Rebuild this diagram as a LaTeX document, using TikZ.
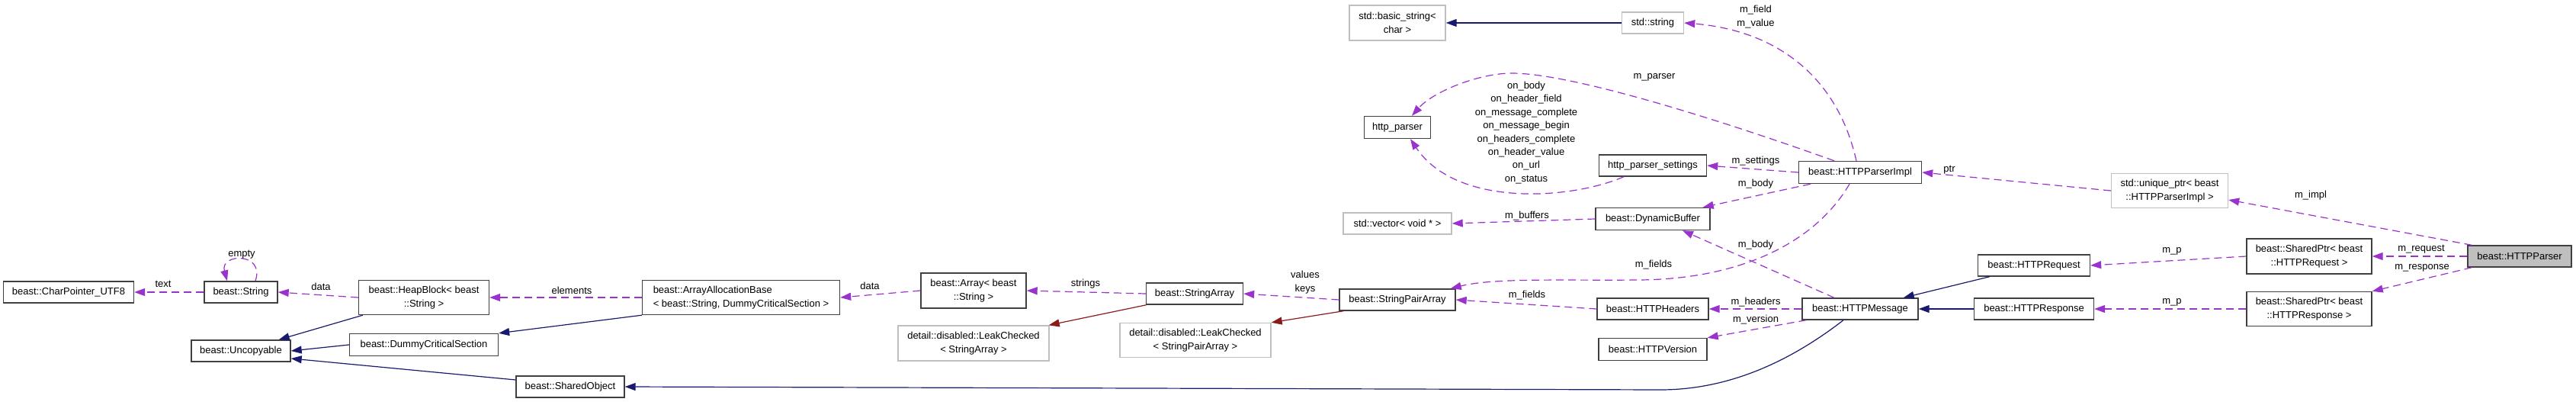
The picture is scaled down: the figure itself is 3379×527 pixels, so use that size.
\documentclass[tikz,border=0pt]{standalone}
\usepackage{fontspec}
\setmainfont{Liberation Sans}
\usetikzlibrary{arrows.meta}
\definecolor{boxgray}{HTML}{404040}
\definecolor{extgray}{HTML}{BFBFBF}
\definecolor{usecol}{HTML}{9A32CD}
\definecolor{inhcol}{HTML}{191970}
\definecolor{tplcol}{HTML}{8B1A1A}
\newcommand\dxfont{\fontsize{13}{18}\selectfont}
\newcommand\dxcbfont{\fontsize{13}{17.4}\selectfont}
\begin{document}
\begin{tikzpicture}[x=1pt,y=-1pt,
  cls/.style={draw=boxgray, line width=1.4pt, fill=white, inner sep=0pt, align=center, font=\dxfont, minimum height=28pt},
  ext/.style={cls, draw=extgray},
  cur/.style={cls, fill=extgray},
  use/.style={draw=usecol, line width=1.2pt, dash pattern=on 10pt off 6pt, -{Triangle[length=14pt,width=10pt]}},
  inh/.style={draw=inhcol, line width=1.2pt, -{Triangle[length=14pt,width=10pt]}},
  tinh/.style={draw=tplcol, line width=1.2pt, -{Triangle[length=14pt,width=10pt]}},
  lbl/.style={inner sep=0pt, align=center, font=\dxfont}
]
\useasboundingbox[fill=white] (0,0) rectangle (3379,527);

% nodes
\node[cls, minimum width=171pt] (cp) at (90,383) {beast::CharPointer\_UTF8};
\node[cls, minimum width=96pt] (str) at (316,383) {beast::String};
\node[cls, minimum width=171pt, minimum height=45pt] (hb) at (556,390) {beast::HeapBlock< beast\\::String >};
\node[cls, minimum width=130pt] (unc) at (316,460) {beast::Uncopyable};
\node[cls, minimum width=195pt, minimum height=29pt] (dcs) at (556,452) {beast::DummyCriticalSection};
\node[cls, minimum width=259pt, minimum height=45pt, align=left] (aab) at (972,390) {beast::ArrayAllocationBase\\< beast::String, DummyCriticalSection >};
\node[cls, minimum width=142pt] (so) at (748,507) {beast::SharedObject};
\node[cls, minimum width=138pt, minimum height=46pt] (arr) at (1277,381) {beast::Array< beast\\::String >};
\node[ext, minimum width=198pt, minimum height=46pt] (lcsa) at (1277,450) {detail::disabled::LeakChecked\\< StringArray >};
\node[cls, minimum width=127pt] (sa) at (1567,385) {beast::StringArray};
\node[ext, minimum width=198pt, minimum height=45pt] (lcspa) at (1568,446) {detail::disabled::LeakChecked\\< StringPairArray >};
\node[cls, minimum width=152pt] (spa) at (1833,393) {beast::StringPairArray};
\node[ext, minimum width=142pt] (vec) at (1833,293) {std::vector< void * >};
\node[cls, minimum width=87pt, minimum height=29pt] (hpar) at (1833,167) {http\_parser};
\node[ext, minimum width=126pt, minimum height=46pt] (bs) at (1833,30) {std::basic\_string<\\char >};
\node[ext, minimum width=81pt] (ss) at (2168,30) {std::string};
\node[cls, minimum width=141pt] (set) at (2168,217) {http\_parser\_settings};
\node[cls, minimum width=150pt, minimum height=29pt] (db) at (2168,287) {beast::DynamicBuffer};
\node[cls, minimum width=146pt] (hh) at (2168,405) {beast::HTTPHeaders};
\node[cls, minimum width=142pt, minimum height=29pt] (hv) at (2168,458) {beast::HTTPVersion};
\node[cls, minimum width=161pt, minimum height=29pt] (impl) at (2440,226) {beast::HTTPParserImpl};
\node[cls, minimum width=152pt] (msg) at (2440,405) {beast::HTTPMessage};
\node[cls, minimum width=147pt] (req) at (2668,348) {beast::HTTPRequest};
\node[cls, minimum width=157pt] (resp) at (2668,405) {beast::HTTPResponse};
\node[ext, minimum width=153pt, minimum height=45pt] (up) at (2846,250) {std::unique\_ptr< beast\\::HTTPParserImpl >};
\node[cls, minimum width=164pt, minimum height=46pt] (spq) at (3029,336) {beast::SharedPtr< beast\\::HTTPRequest >};
\node[cls, minimum width=164pt, minimum height=45pt] (sps) at (3029,405) {beast::SharedPtr< beast\\::HTTPResponse >};
\node[cur, minimum width=136pt] (hp) at (3305,336) {beast::HTTPParser};

% usage edges
\draw[use] (str.west) -- (cp.east);
\draw[use] ([xshift=19pt]str.north) .. controls (348,330) and (288,332) .. ([xshift=-18pt]str.north);
\draw[use] (hb.west) -- (str.east);
\draw[use] (aab.west) -- (hb.east);
\draw[use] (arr.west) -- (aab.east);
\draw[use] (sa.west) -- (arr.east);
\draw[use] (spa.west) -- (sa.east);
\draw[use] (db.west) -- (vec.east);
\draw[use] (hh.west) -- (spa.east);
\draw[use] ([xshift=-14pt]impl.south) .. controls (2380,320) and (2280,366) .. (2150,367) .. controls (2050,368) and (1960,364) .. ([xshift=-7pt]spa.north east);
\draw[use] ([xshift=-34pt]impl.north) .. controls (2250,155) and (2060,96) .. (1983,96) .. controls (1940,96) and (1880,120) .. ([xshift=19pt]hpar.north);
\draw[use] ([xshift=-38pt]set.south) .. controls (2060,262) and (1910,272) .. ([xshift=17pt]hpar.south);
\draw[use] (impl.west) -- (set.east);
\draw[use] ([xshift=-65pt]impl.south) -- ([xshift=-10pt]db.north east);
\draw[use] ([xshift=-5pt]impl.north) .. controls (2410,100) and (2330,40) .. (ss.east);
\draw[use] ([xshift=-34pt]msg.north) -- ([xshift=39pt]db.south);
\draw[use] (msg.west) -- (hh.east);
\draw[use] ([xshift=6pt]msg.south west) -- (hv.north east);
\draw[use] (up.west) -- (impl.east);
\draw[use] (spq.west) -- (req.east);
\draw[use] (sps.west) -- (resp.east);
\draw[use] ([xshift=6pt]hp.north west) -- ([yshift=-12pt]up.east);
\draw[use] (hp.west) -- (spq.east);
\draw[use] ([xshift=6pt]hp.south west) -- (sps.north east);

% inheritance edges
\draw[inh] (ss.west) -- (bs.east);
\draw[inh] ([xshift=6pt]hb.south west) -- ([xshift=-16pt]unc.north east);
\draw[inh] (dcs.west) -- (unc.east);
\draw[inh] ([yshift=9pt]so.west) -- ([yshift=-10pt]unc.east);
\draw[inh] (aab.south west) -- (dcs.north east);
\draw[inh] ([xshift=-22pt]msg.south) .. controls (2340,480) and (2260,511) .. (2178,511) -- (so.east);
\draw[inh] ([xshift=16pt]req.south west) -- ([xshift=-20pt]msg.north east);
\draw[inh] (resp.west) -- (msg.east);
\draw[tinh] ([xshift=1pt]sa.south west) -- ([xshift=-1pt]lcsa.north east);
\draw[tinh] ([xshift=6pt]spa.south west) -- (lcspa.north east);

% labels
\node[lbl] (l1) at (214,372) {text};
\node[lbl] (l2) at (317,334) {empty};
\node[lbl] (l3) at (421,376) {data};
\node[lbl] (l4) at (750,381) {elements};
\node[lbl] (l5) at (1141,375) {data};
\node[lbl] (l6) at (1424,372) {strings};
\node[lbl] (l7) at (1712,370) {values\\keys};
\node[lbl] (l8) at (2003,283) {m\_buffers};
\node[lbl] (l9) at (2003,387) {m\_fields};
\node[lbl] (l10) at (2169,347) {m\_fields};
\node[lbl] (l11) at (2170,101) {m\_parser};
\node[lbl, font=\dxcbfont] (l12) at (2002,174) {on\_body\\on\_header\_field\\on\_message\_complete\\on\_message\_begin\\on\_headers\_complete\\on\_header\_value\\on\_url\\on\_status};
\node[lbl] (l13) at (2303,211) {m\_settings};
\node[lbl] (l14) at (2303,241) {m\_body};
\node[lbl] (l15) at (2303,22) {m\_field\\m\_value};
\node[lbl] (l16) at (2303,321) {m\_body};
\node[lbl] (l17) at (2303,396) {m\_headers};
\node[lbl] (l18) at (2303,419) {m\_version};
\node[lbl] (l19) at (2557,223) {ptr};
\node[lbl] (l20) at (2849,329) {m\_p};
\node[lbl] (l21) at (2849,396) {m\_p};
\node[lbl] (l22) at (3031,256) {m\_impl};
\node[lbl] (l23) at (3176,327) {m\_request};
\node[lbl] (l24) at (3177,351) {m\_response};
\end{tikzpicture}
\end{document}
